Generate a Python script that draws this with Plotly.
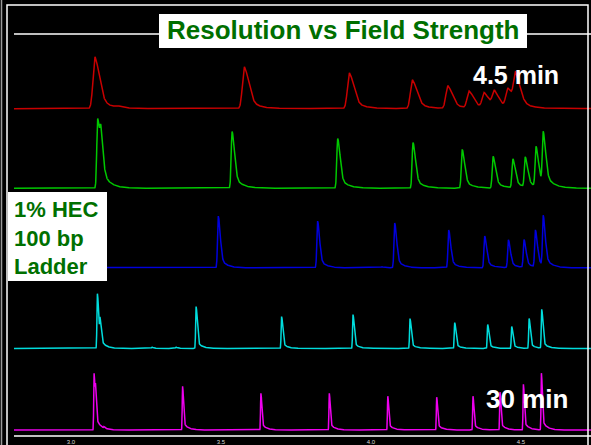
import numpy as np
import plotly.graph_objects as go

# ---- data (migration time in min, peak height in signal units) ----
red_times = [3.080, 3.153, 3.578, 3.928, 4.138, 4.256, 4.327, 4.377, 4.411, 4.456, 4.482]
red_heights = [52, 1.5, 42, 36, 29, 23, 17, 15, 16, 19, 31]

green_times = [3.089, 3.100, 3.537, 3.889, 4.140, 4.304, 4.407, 4.473, 4.514, 4.550, 4.574]
green_heights = [70, 30, 57, 50, 46, 39, 32, 29, 30, 40, 52]

blue_times = [3.491, 3.822, 4.036, 4.079, 4.259, 4.379, 4.458, 4.510, 4.548, 4.574]
blue_heights = [52, 47, 1, 45, 38, 32, 28, 28, 37, 50]

cyan_times = [3.088, 3.097, 3.270, 3.350, 3.417, 3.702, 3.940, 4.130, 4.279, 4.389, 4.469, 4.527, 4.569]
cyan_heights = [55, 22, 1.2, 1.2, 42, 32, 34, 30, 26, 24, 22, 30, 39]

magenta_times = [3.077, 3.082, 3.110, 3.372, 3.633, 3.861, 4.056, 4.219, 4.340, 4.430, 4.508, 4.568]
magenta_heights = [57, 26, 1.5, 44, 37, 37, 34, 33, 34, 38, 46, 57]

tick_values = [3.0, 3.5, 4.0, 4.5]
tick_labels = ["3.0", "3.5", "4.0", "4.5"]

traces = [
    # name, times, heights, offset, colour, (left width, right width, tail fraction, tail decay)
    ("4.5 min", red_times, red_heights, 326, "#c80000", (0.0065, 0.015, 0.35, 0.03)),
    ("green", green_times, green_heights, 246, "#00c800", (0.003, 0.008, 0.28, 0.024)),
    ("blue", blue_times, blue_heights, 166, "#0000dc", (0.0025, 0.0065, 0.25, 0.02)),
    ("cyan", cyan_times, cyan_heights, 85, "#00dcdc", (0.0015, 0.004, 0.2, 0.015)),
    ("30 min", magenta_times, magenta_heights, 3, "#ee00ee", (0.0012, 0.003, 0.2, 0.015)),
]

X_MIN, X_MAX = 2.81, 4.7333
x = np.arange(X_MIN, X_MAX, 0.0005)


def peak_shape(x, t, s1, s2, a, tau):
    d = x - t
    left = np.exp(-0.5 * (d / s1) ** 2)
    dr = np.clip(d, 0, None)
    right = (1 - a) * np.exp(-0.5 * (dr / s2) ** 2) + a * np.exp(-dr / tau)
    return np.where(d < 0, left, right)


W, H = 591, 445
fig = go.Figure()
for name, times, heights, off, col, (s1, s2, a, tau) in traces:
    y = np.zeros_like(x)
    for t, h in zip(times, heights):
        y += h * peak_shape(x, t, s1, s2, a, tau)
    fig.add_trace(go.Scatter(x=x, y=y + off, mode="lines", name=name,
                             line=dict(color=col, width=1.5), hoverinfo="skip"))


def px(v):
    return v / W


def py(v):
    return 1 - v / H


FONT = "Liberation Sans, Arial, sans-serif"
shapes = [
    # frame lines
    dict(type="line", xref="paper", yref="paper", x0=px(14), x1=px(591), y0=py(34), y1=py(34),
         line=dict(color="white", width=1.5), layer="above"),
    dict(type="rect", xref="paper", yref="paper", x0=px(7), x1=px(588), y0=py(450), y1=py(5),
         line=dict(color="white", width=1.5), layer="above"),
    dict(type="line", xref="paper", yref="paper", x0=px(1.5), x1=px(1.5), y0=0, y1=1,
         line=dict(color="#9a9a9a", width=1.5), layer="above"),
    # title box
    dict(type="rect", xref="paper", yref="paper", x0=px(159), x1=px(527), y0=py(48), y1=py(14),
         fillcolor="white", line=dict(width=0), layer="above"),
    # label box
    dict(type="rect", xref="paper", yref="paper", x0=px(8), x1=px(107), y0=py(281), y1=py(192),
         fillcolor="white", line=dict(width=0), layer="above"),
]

annotations = [
    dict(text="<b>Resolution vs Field Strength</b>", xref="paper", yref="paper", x=px(343), y=py(30),
         xanchor="center", yanchor="middle", showarrow=False,
         font=dict(family=FONT, size=26, color="#006f00")),
    dict(text="<b>1% HEC<br>100 bp<br>Ladder</b>", xref="paper", yref="paper", x=px(12), y=py(238),
         xanchor="left", yanchor="middle", align="left", showarrow=False,
         font=dict(family=FONT, size=22, color="#007000")),
    dict(text="<b>4.5 min</b>", xref="paper", yref="paper", x=px(515.5), y=py(75),
         xanchor="center", yanchor="middle", showarrow=False,
         font=dict(family=FONT, size=25, color="white")),
    dict(text="<b>30 min</b>", xref="paper", yref="paper", x=px(526.5), y=py(399),
         xanchor="center", yanchor="middle", showarrow=False,
         font=dict(family=FONT, size=26, color="white")),
]

fig.update_layout(
    width=W, height=H,
    margin=dict(l=0, r=0, t=0, b=0),
    paper_bgcolor="black", plot_bgcolor="black",
    showlegend=False,
    shapes=shapes, annotations=annotations,
    xaxis=dict(domain=[px(14), 1], range=[X_MIN, X_MAX], tickvals=tick_values, ticktext=tick_labels,
               showline=True, linecolor="#c0c0c0", linewidth=2, ticks="",
               tickfont=dict(family=FONT, size=6, color="#d8d8d8"),
               showgrid=False, zeroline=False, automargin=False),
    yaxis=dict(domain=[1 - 435 / H, 1 - 34 / H], range=[-2, 401], visible=False,
               showgrid=False, zeroline=False, automargin=False),
)

fig.write_html("out.html", config={"displayModeBar": False},
               post_script="document.body.style.margin='0';document.body.style.overflow='hidden';")
